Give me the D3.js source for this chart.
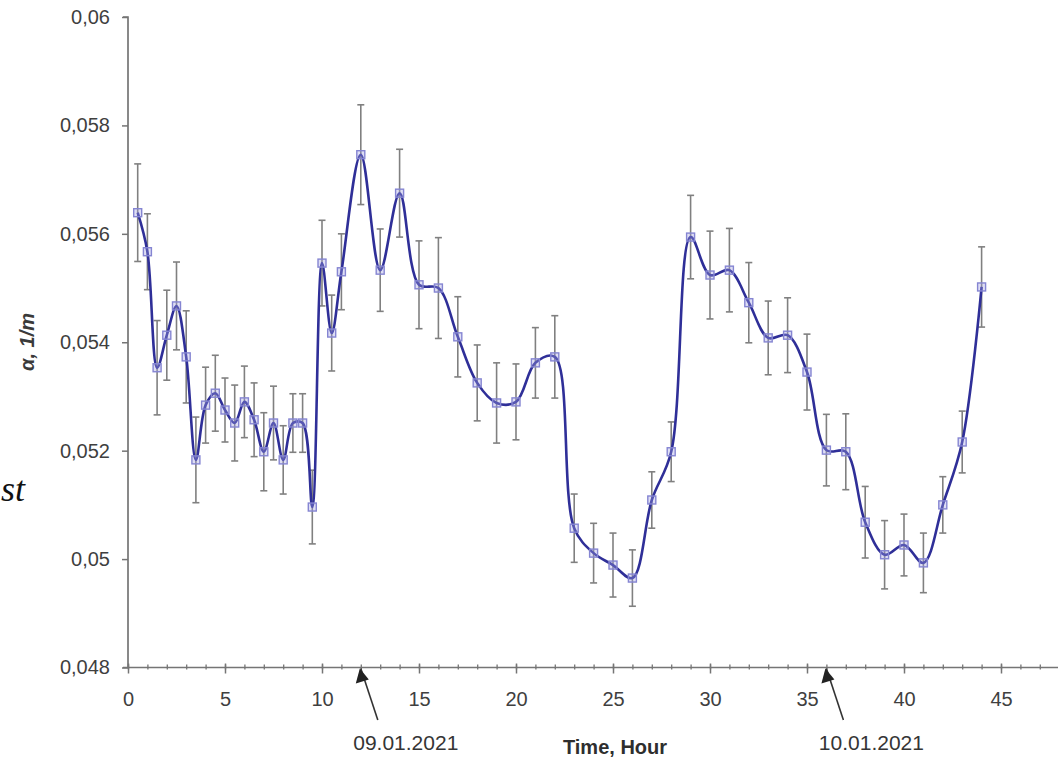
<!DOCTYPE html>
<html>
<head>
<meta charset="utf-8">
<script src="https://cdn.jsdelivr.net/npm/d3@7"></script>
<style>
  html, body { margin: 0; padding: 0; background: #fff; }
  svg { display: block; }
</style>
</head>
<body>
<svg id="chart" width="1058" height="758"></svg>
<script>
// Measurement times, hours from start
const hours = [0.5, 1, 1.5, 2, 2.5, 3, 3.5, 4, 4.5, 5, 5.5, 6, 6.5, 7, 7.5, 8, 8.5, 9, 9.5,
  10, 10.5, 11, 12, 13, 14, 15, 16, 17, 18, 19, 20, 21, 22, 23, 24, 25, 26, 27, 28, 29,
  30, 31, 32, 33, 34, 35, 36, 37, 38, 39, 40, 41, 42, 43, 44];

// Attenuation coefficient α, 1/m
const alpha = [0.05639, 0.05567, 0.05353, 0.05413, 0.05467, 0.05373, 0.05183, 0.05284, 0.05306,
  0.05275, 0.05251, 0.05290, 0.05257, 0.05198, 0.05251, 0.05183, 0.05251, 0.05251, 0.05096,
  0.05546, 0.05417, 0.05530, 0.05746, 0.05533, 0.05675, 0.05506, 0.05500, 0.05410, 0.05325,
  0.05288, 0.05290, 0.05362, 0.05373, 0.05057, 0.05011, 0.04989, 0.04965, 0.05109, 0.05198,
  0.05594, 0.05524, 0.05533, 0.05473, 0.05408, 0.05413, 0.05345, 0.05201, 0.05198, 0.05068,
  0.05008, 0.05026, 0.04993, 0.05100, 0.05216, 0.05502];

// Measurement uncertainty (half-width of error bar)
const alphaErr = [0.00090, 0.00070, 0.00087, 0.00083, 0.00081, 0.00085, 0.00079, 0.00070, 0.00070,
  0.00059, 0.00070, 0.00066, 0.00068, 0.00072, 0.00068, 0.00063, 0.00054, 0.00054, 0.00068,
  0.00079, 0.00070, 0.00070, 0.00092, 0.00076, 0.00081, 0.00081, 0.00093, 0.00074, 0.00070,
  0.00074, 0.00070, 0.00065, 0.00076, 0.00063, 0.00055, 0.00059, 0.00052, 0.00052, 0.00055,
  0.00077, 0.00081, 0.00077, 0.00074, 0.00068, 0.00069, 0.00070, 0.00066, 0.00070, 0.00066,
  0.00063, 0.00057, 0.00055, 0.00052, 0.00057, 0.00074];

const xMajorTicks = [0, 5, 10, 15, 20, 25, 30, 35, 40, 45];
const yTicks = [0.048, 0.05, 0.052, 0.054, 0.056, 0.058, 0.06];
const dateMarks = [{ t: 12, label: "09.01.2021" }, { t: 36, label: "10.01.2021" }];

const svg = d3.select("#chart");
const font = "'Liberation Sans', Arial, sans-serif";

const x = d3.scaleLinear().domain([0, 48]).range([128, 1059.2]);
const y = d3.scaleLinear().domain([0.048, 0.06]).range([667.5, 17]);

const axisColor = "#757575";
const labelColor = "#3f3f3f";

// Y axis
const yAxis = svg.append("g")
  .attr("transform", `translate(${x(0)},0)`)
  .call(d3.axisLeft(y).tickValues(yTicks).tickSize(6).tickPadding(12)
    .tickFormat(d => d3.format(".3~f")(d).replace(".", ",")));
yAxis.select(".domain").attr("stroke", axisColor).attr("stroke-width", 1.7)
  .attr("d", `M-5,${y(0.06)}H0V${y(0.048)}`);
yAxis.selectAll(".tick line").attr("stroke", axisColor).attr("stroke-width", 1.5);
yAxis.selectAll(".tick text").attr("fill", labelColor).style("font", `20px ${font}`);

// X axis: minor hourly ticks
const xMinor = svg.append("g")
  .attr("transform", `translate(0,${y(0.048)})`)
  .call(d3.axisBottom(x).tickValues(d3.range(0, 49, 1)).tickSize(2).tickFormat(""));
xMinor.select(".domain").attr("stroke", axisColor).attr("stroke-width", 1.7)
  .attr("d", `M${x(0) - 5},0H1058`);
xMinor.selectAll(".tick line").attr("stroke", axisColor).attr("stroke-width", 1.3).attr("y1", -3);

// X axis: major ticks with labels
const xMajor = svg.append("g")
  .attr("transform", `translate(0,${y(0.048)})`)
  .call(d3.axisBottom(x).tickValues(xMajorTicks).tickSize(6).tickPadding(18).tickFormat(d3.format("d")));
xMajor.select(".domain").remove();
xMajor.selectAll(".tick line").attr("stroke", axisColor).attr("stroke-width", 1.5).attr("y1", -4);
xMajor.selectAll(".tick text").attr("fill", labelColor).style("font", `20px ${font}`);

// Error bars
const eb = svg.append("g").attr("stroke", "#808080").attr("stroke-width", 1.6).attr("fill", "none");
hours.forEach((h, i) => {
  const cx = x(h), top = y(alpha[i] + alphaErr[i]), bot = y(alpha[i] - alphaErr[i]);
  eb.append("line").attr("x1", cx).attr("x2", cx).attr("y1", top).attr("y2", bot);
  eb.append("line").attr("x1", cx - 3.5).attr("x2", cx + 3.5).attr("y1", top).attr("y2", top);
  eb.append("line").attr("x1", cx - 3.5).attr("x2", cx + 3.5).attr("y1", bot).attr("y2", bot);
});

// Smoothed series line
const pts = hours.map((h, i) => [h, alpha[i]]);
const line = d3.line().x(d => x(d[0])).y(d => y(d[1])).curve(d3.curveCatmullRom.alpha(0.5));
svg.append("path").datum(pts)
  .attr("d", line)
  .attr("fill", "none")
  .attr("stroke", "#2f2f98")
  .attr("stroke-width", 2.6)
  .attr("stroke-linejoin", "round");

// Square markers
svg.append("g").selectAll("rect").data(pts).join("rect")
  .attr("x", d => x(d[0]) - 4)
  .attr("y", d => y(d[1]) - 4)
  .attr("width", 8).attr("height", 8)
  .attr("fill", "rgba(160,160,225,0.35)")
  .attr("stroke", "#8585d2")
  .attr("stroke-width", 1.4);

// Y axis title
svg.append("text")
  .attr("transform", `translate(34,342) rotate(-90)`)
  .attr("text-anchor", "middle")
  .attr("fill", "#3a3a3a")
  .style("font", `italic bold 20px ${font}`)
  .text("α, 1/m");

// X axis title
svg.append("text")
  .attr("x", 615).attr("y", 754)
  .attr("text-anchor", "middle")
  .attr("fill", "#2e2e2e")
  .style("font", `bold 20px ${font}`)
  .text("Time, Hour");

// Date markers with arrows
dateMarks.forEach(dm => {
  const tipX = x(dm.t), tipY = y(0.048) + 1;
  svg.append("line")
    .attr("x1", tipX + 17).attr("y1", 720)
    .attr("x2", tipX).attr("y2", tipY)
    .attr("stroke", "#333").attr("stroke-width", 1.6);
  svg.append("path")
    .attr("d", d3.line()([[tipX - 1, tipY], [tipX - 5, tipY + 15], [tipX + 8, tipY + 11]]) + "Z")
    .attr("fill", "#222");
  svg.append("text")
    .attr("x", tipX + 45).attr("y", 750)
    .attr("text-anchor", "middle")
    .attr("fill", "#353535")
    .style("font", `21px ${font}`)
    .text(dm.label);
});

// Fragment of neighbouring caption text
svg.append("text")
  .attr("x", 1).attr("y", 501)
  .attr("fill", "#111")
  .style("font", "italic 36px 'Liberation Serif', 'Times New Roman', serif")
  .text("st");
</script>
</body>
</html>
